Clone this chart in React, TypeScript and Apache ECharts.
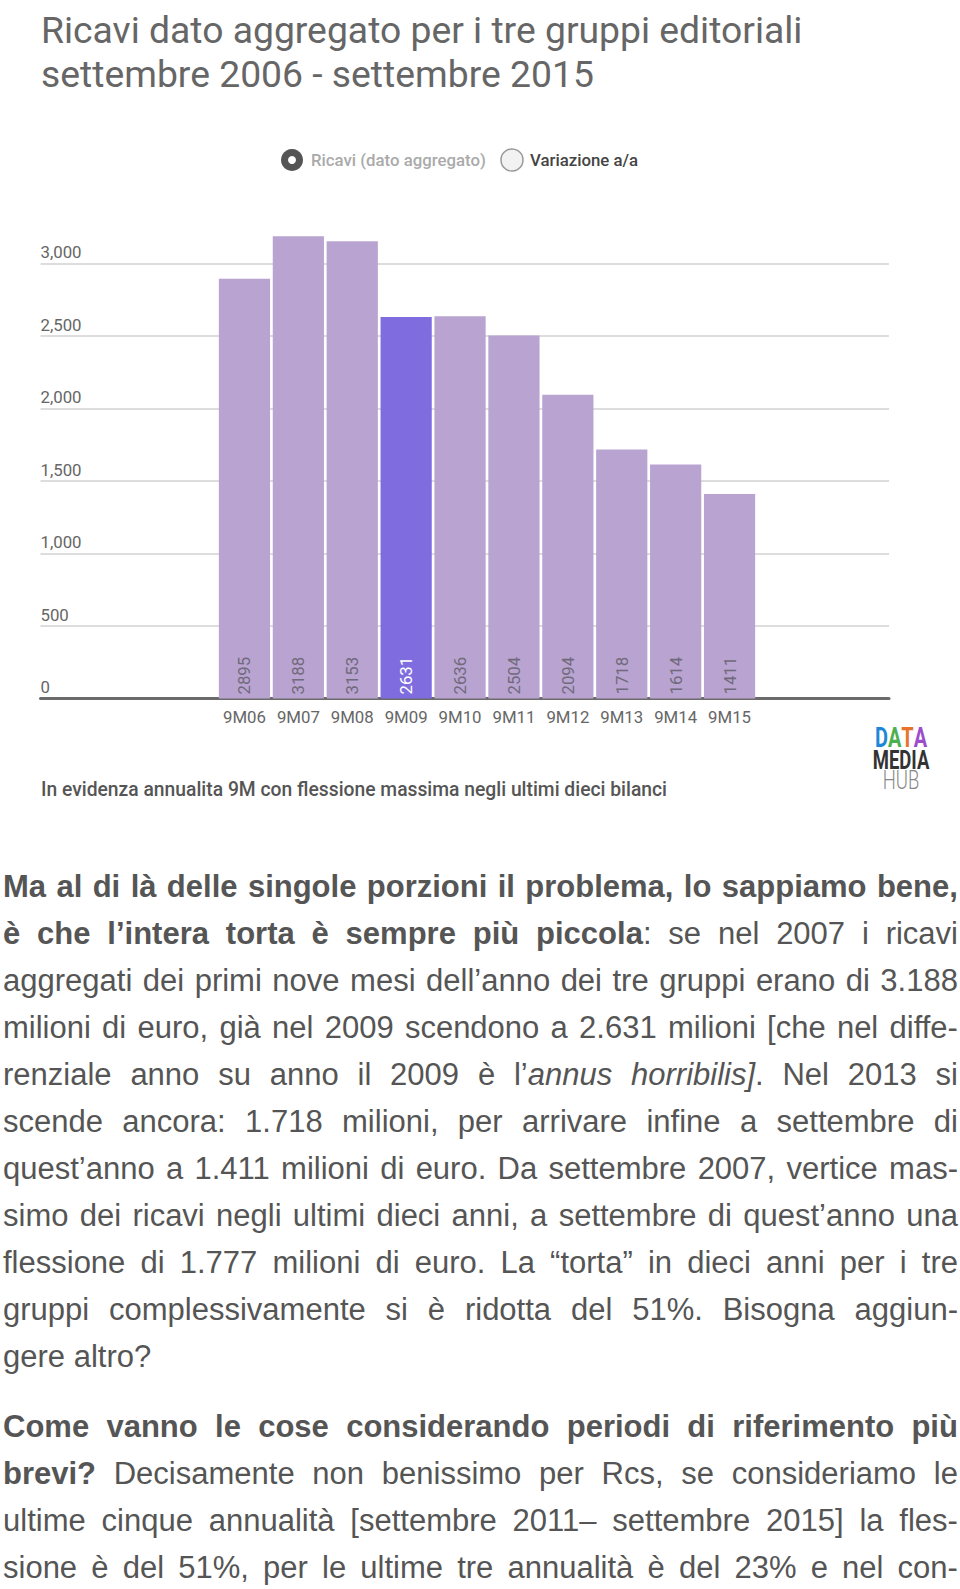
import React, { useEffect, useRef } from "react";
import * as echarts from "echarts";

// ---------- data ----------
const titleLines = [
  "Ricavi dato aggregato per i tre gruppi editoriali",
  "settembre 2006 - settembre 2015",
];
const legendLabels = ["Ricavi (dato aggregato)", "Variazione a/a"];
const categories = ["9M06", "9M07", "9M08", "9M09", "9M10", "9M11", "9M12", "9M13", "9M14", "9M15"];
const revenues = [2895, 3188, 3153, 2631, 2636, 2504, 2094, 1718, 1614, 1411];
const highlightIndex = 3;
const yMin = 0;
const yMax = 3500;
const yInterval = 500;
const footnote = "In evidenza annualita 9M con flessione massima negli ultimi dieci bilanci";
const logoLines = ["DATA", "MEDIA", "HUB"];

// '*' toggles bold, '_' toggles italic
const paragraph1 = [
  "*Ma al di là delle singole porzioni il problema, lo sappiamo bene,*",
  "*è che l’intera torta è sempre più piccola*: se nel 2007 i ricavi",
  "aggregati dei primi nove mesi dell’anno dei tre gruppi erano di 3.188",
  "milioni di euro, già nel 2009 scendono a 2.631 milioni [che nel diffe-",
  "renziale anno su anno il 2009 è l’_annus horribilis]_. Nel 2013 si",
  "scende ancora: 1.718 milioni, per arrivare infine a settembre di",
  "quest’anno a 1.411 milioni di euro. Da settembre 2007, vertice mas-",
  "simo dei ricavi negli ultimi dieci anni, a settembre di quest’anno una",
  "flessione di 1.777 milioni di euro. La “torta” in dieci anni per i tre",
  "gruppi complessivamente si è ridotta del 51%. Bisogna aggiun-",
  "gere altro?",
];
const paragraph2 = [
  "*Come vanno le cose considerando periodi di riferimento più*",
  "*brevi?* Decisamente non benissimo per Rcs, se consideriamo le",
  "ultime cinque annualità [settembre 2011– settembre 2015] la fles-",
  "sione è del 51%, per le ultime tre annualità è del 23% e nel con-",
];

// ---------- layout ----------
const P1_TOP = 887;
const P2_TOP = 1427.3;
const LINE_H = 47.04;
const TEXT_LEFT = 3;
const TEXT_WIDTH = 955;

type Run = { t: string; b: boolean; i: boolean };

function parseLine(s: string): Run[][] {
  let bold = false;
  let italic = false;
  return s.split(" ").map((w) => {
    const runs: Run[] = [];
    let cur = "";
    for (const ch of w) {
      if (ch === "*" || ch === "_") {
        if (cur) runs.push({ t: cur, b: bold, i: italic });
        cur = "";
        if (ch === "*") bold = !bold;
        else italic = !italic;
      } else cur += ch;
    }
    if (cur) runs.push({ t: cur, b: bold, i: italic });
    return runs;
  });
}

function TextLine({ text, center, justify }: { text: string; center: number; justify: boolean }) {
  const words = parseLine(text);
  return (
    <div
      style={{
        position: "absolute",
        left: TEXT_LEFT,
        width: TEXT_WIDTH,
        top: center - LINE_H / 2,
        height: LINE_H,
        display: "flex",
        justifyContent: justify ? "space-between" : "flex-start",
        gap: justify ? 0 : "0.278em",
        alignItems: "center",
        fontFamily: "'Liberation Sans', Arial, sans-serif",
        fontSize: 31,
        color: "#555",
        whiteSpace: "pre",
      }}
    >
      {words.map((runs, wi) => (
        <span key={wi}>
          {runs.map((r, ri) => (
            <span key={ri} style={{ fontWeight: r.b ? "bold" : "normal", fontStyle: r.i ? "italic" : "normal" }}>
              {r.t}
            </span>
          ))}
        </span>
      ))}
    </div>
  );
}

export default function App() {
  const ref = useRef<HTMLDivElement>(null);

  useEffect(() => {
    if (!ref.current) return;
    const chart = echarts.init(ref.current, null, { renderer: "svg" });
    const font = "Roboto";
    const fs = 16.8;
    const baseColor = "#b9a3d1";
    const hiColor = "#7f6de0";

    const option: any = {
      animation: false,
      title: {
        text: titleLines.join("\n"),
        left: 41,
        top: 8.6,
        padding: 0,
        textStyle: { fontFamily: font, fontSize: 37.3, fontWeight: "normal", color: "#666", lineHeight: 43.6 },
      },
      grid: [
        { left: 40.5, right: 71, top: 191, height: 507.5 },
        { left: 217.5, width: 539, top: 191, height: 507.5 },
      ],
      xAxis: [
        {
          gridIndex: 0,
          type: "value",
          min: 0,
          max: 1,
          axisLine: { show: true, lineStyle: { color: "#6b6b6b", width: 3 } },
          axisTick: { show: false },
          axisLabel: { show: false },
          splitLine: { show: false },
        },
        {
          gridIndex: 1,
          type: "category",
          data: categories,
          axisLine: { show: false },
          axisTick: { show: false },
          axisLabel: { interval: 0, hideOverlap: false, color: "#666", fontSize: fs, fontFamily: font, margin: 10 },
        },
      ],
      yAxis: [
        {
          gridIndex: 0,
          type: "value",
          min: yMin,
          max: yMax,
          interval: yInterval,
          axisLine: { show: false },
          axisTick: { show: false },
          splitLine: { show: true, showMaxLine: false, lineStyle: { color: "#d2d2d2", width: 1.5 } },
          axisLabel: {
            inside: true,
            showMaxLabel: false,
            margin: 0,
            verticalAlign: "bottom",
            padding: [0, 0, 3, 0],
            color: "#666",
            fontSize: fs,
            fontFamily: font,
            formatter: (v: number) => (v >= yMax ? "" : v.toLocaleString("en-US")),
          },
        },
        { gridIndex: 1, type: "value", min: yMin, max: yMax, interval: yInterval, show: false },
      ],
      series: [
        {
          type: "bar",
          name: legendLabels[0],
          xAxisIndex: 1,
          yAxisIndex: 1,
          barCategoryGap: "5%",
          data: revenues.map((v, i) => ({
            value: v,
            itemStyle: { color: i === highlightIndex ? hiColor : baseColor },
            label: { color: i === highlightIndex ? "#ffffff" : "#706a7a" },
          })),
          label: {
            show: true,
            position: "insideBottom",
            rotate: 90,
            align: "left",
            verticalAlign: "middle",
            distance: 4,
            fontSize: fs,
            fontFamily: font,
            color: "#706a7a",
          },
        },
      ],
      graphic: [
        { type: "circle", shape: { cx: 292, cy: 160, r: 11 }, style: { fill: "#555" } },
        { type: "circle", shape: { cx: 292, cy: 160, r: 4 }, style: { fill: "#fff" } },
        {
          type: "text",
          x: 311,
          y: 160,
          style: { text: legendLabels[0], fill: "#aaa", fontSize: fs, fontFamily: font, fontWeight: 500, textVerticalAlign: "middle" },
        },
        { type: "circle", shape: { cx: 512, cy: 160, r: 11 }, style: { fill: "#f2f2f2", stroke: "#999", lineWidth: 1.5 } },
        {
          type: "text",
          x: 530,
          y: 160,
          style: { text: legendLabels[1], fill: "#444", fontSize: fs, fontFamily: font, fontWeight: 500, textVerticalAlign: "middle" },
        },
        {
          type: "text",
          x: 41,
          y: 789,
          style: { text: footnote, fill: "#555", fontSize: 19.3, fontFamily: font, fontWeight: 500, textVerticalAlign: "middle" },
        },
        {
          type: "text",
          x: 901,
          y: 738,
          scaleX: 0.74,
          style: {
            text: "{d|D}{a|A}{t|T}{b|A}",
            fontSize: 27,
            fontFamily: font,
            fontWeight: "bold",
            textAlign: "center",
            textVerticalAlign: "middle",
            rich: {
              d: { fill: "#1e88d8", fontSize: 27, fontWeight: "bold", fontFamily: font },
              a: { fill: "#4caf50", fontSize: 27, fontWeight: "bold", fontFamily: font },
              t: { fill: "#e8732c", fontSize: 27, fontWeight: "bold", fontFamily: font },
              b: { fill: "#9c4dcc", fontSize: 27, fontWeight: "bold", fontFamily: font },
            },
          },
        },
        {
          type: "text",
          x: 901,
          y: 760,
          scaleX: 0.74,
          style: { text: logoLines[1], fill: "#333", fontSize: 25, fontFamily: font, fontWeight: "bold", textAlign: "center", textVerticalAlign: "middle" },
        },
        {
          type: "text",
          x: 901,
          y: 780,
          scaleX: 0.74,
          style: { text: logoLines[2], fill: "#888", fontSize: 25, fontFamily: font, fontWeight: 300, textAlign: "center", textVerticalAlign: "middle" },
        },
      ],
    };
    chart.setOption(option);
    return () => chart.dispose();
  }, []);

  return (
    <div style={{ position: "absolute", left: 0, top: 0, width: 960, height: 1589, overflow: "hidden", background: "#fff" }}>
      <div ref={ref} style={{ position: "absolute", left: 0, top: 0, width: 960, height: 830 }} />
      {paragraph1.map((l, i) => (
        <TextLine key={"a" + i} text={l} center={P1_TOP + i * LINE_H} justify={i < paragraph1.length - 1} />
      ))}
      {paragraph2.map((l, i) => (
        <TextLine key={"b" + i} text={l} center={P2_TOP + i * LINE_H} justify={true} />
      ))}
    </div>
  );
}
